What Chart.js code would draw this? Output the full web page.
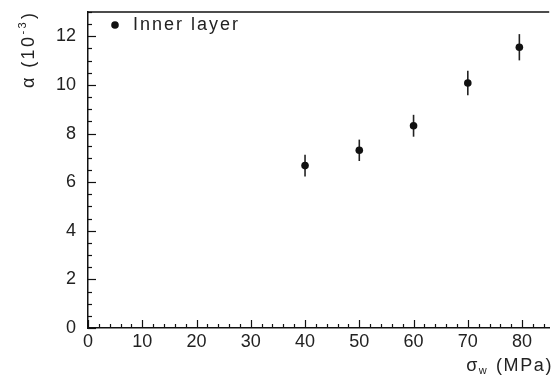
<!DOCTYPE html>
<html>
<head>
<meta charset="utf-8">
<script src="https://cdn.jsdelivr.net/npm/chart.js@4.4.1/dist/chart.umd.min.js"></script>
<style>
  html, body { margin: 0; padding: 0; background: #fff; }
  #wrap { width: 553px; height: 375px; }
</style>
</head>
<body>
<div id="wrap"><canvas id="c" width="553" height="375"></canvas></div>
<script>
// Wire stress (MPa) and measured alpha (units of 1e-3) with their uncertainties
const stress = [40, 50, 60, 70, 79.5];
const alphaValues = [6.68, 7.31, 8.32, 10.08, 11.55];
const alphaErrors = [0.45, 0.44, 0.45, 0.50, 0.54];
const seriesLabel = 'Inner layer';
const xAxisRange = [0, 85];
const yAxisRange = [0, 13];
const xMajorStep = 10, xMinorStep = 2;
const yMajorStep = 2, yMinorStep = 0.5;

const FONT = '"Liberation Sans", Arial, sans-serif';
const INK = '#111';

const points = stress.map((x, i) => ({ x: x, y: alphaValues[i], err: alphaErrors[i] }));

// Inward-facing tick marks, top frame line, error bars, legend and axis titles
const decorations = {
  id: 'decorations',
  beforeDatasetsDraw(chart) {
    const ctx = chart.ctx;
    const xs = chart.scales.x, ys = chart.scales.y;
    ctx.save();
    ctx.strokeStyle = '#222';
    ctx.lineWidth = 1.6;
    chart.data.datasets[0].data.forEach(p => {
      const px = xs.getPixelForValue(p.x);
      ctx.beginPath();
      ctx.moveTo(px, ys.getPixelForValue(p.y - p.err));
      ctx.lineTo(px, ys.getPixelForValue(p.y + p.err));
      ctx.stroke();
    });
    ctx.restore();
  },
  afterDraw(chart) {
    const ctx = chart.ctx;
    const a = chart.chartArea;
    const xs = chart.scales.x, ys = chart.scales.y;
    ctx.save();
    ctx.strokeStyle = INK;
    ctx.lineWidth = 1.5;

    // top frame line
    ctx.beginPath();
    ctx.moveTo(a.left, a.top);
    ctx.lineTo(a.right, a.top);
    ctx.stroke();

    // x-axis ticks pointing up into the plot
    ctx.lineWidth = 1.2;
    for (let v = xAxisRange[0]; v <= xAxisRange[1] + 1e-9; v += xMinorStep) {
      const px = Math.round(xs.getPixelForValue(v)) + 0.5;
      const major = Math.abs(v / xMajorStep - Math.round(v / xMajorStep)) < 1e-6;
      const len = major ? 8 : 4;
      ctx.beginPath();
      ctx.moveTo(px, a.bottom);
      ctx.lineTo(px, a.bottom - len);
      ctx.stroke();
    }
    // y-axis ticks pointing right into the plot
    for (let v = yAxisRange[0]; v <= yAxisRange[1] + 1e-9; v += yMinorStep) {
      const py = Math.round(ys.getPixelForValue(v)) + 0.5;
      const major = Math.abs(v / yMajorStep - Math.round(v / yMajorStep)) < 1e-6;
      const len = major ? 8 : 4;
      ctx.beginPath();
      ctx.moveTo(a.left, py);
      ctx.lineTo(a.left + len, py);
      ctx.stroke();
    }

    // legend
    ctx.fillStyle = INK;
    ctx.beginPath();
    ctx.arc(a.left + 27, a.top + 13, 3.8, 0, Math.PI * 2);
    ctx.fill();
    ctx.font = '18px ' + FONT;
    ctx.textBaseline = 'middle';
    ctx.textAlign = 'left';
    ctx.letterSpacing = '2px';
    ctx.fillStyle = '#222';
    ctx.fillText(chart.data.datasets[0].label, a.left + 45, a.top + 13);

    // x-axis title: sigma with subscript w, right-aligned
    const big = '18px ' + FONT, small = '11px ' + FONT;
    ctx.textBaseline = 'alphabetic';
    ctx.letterSpacing = '1.6px';
    ctx.font = big;
    const wSig = ctx.measureText('σ').width;
    const wTail = ctx.measureText(' (MPa)').width;
    ctx.font = small;
    const wSub = ctx.measureText('w').width;
    let x0 = 553 - (wSig + wSub + 1 + wTail);
    const base = 371;
    ctx.font = big;
    ctx.fillText('σ', x0, base);
    ctx.font = small;
    ctx.fillText('w', x0 + wSig, base + 3);
    ctx.font = big;
    ctx.fillText(' (MPa)', x0 + wSig + wSub + 1, base);

    // y-axis title, rotated, reading upward from near the top
    ctx.letterSpacing = '2.4px';
    ctx.translate(34, 88);
    ctx.rotate(-Math.PI / 2);
    ctx.font = big;
    const p1 = 'α (10';
    ctx.fillText(p1, 0, 0);
    let off = ctx.measureText(p1).width;
    ctx.font = small;
    ctx.fillText('-3', off, -8);
    off += ctx.measureText('-3').width + 1;
    ctx.font = big;
    ctx.fillText(')', off, 0);
    ctx.restore();
  }
};

new Chart(document.getElementById('c'), {
  type: 'scatter',
  data: {
    datasets: [{
      label: seriesLabel,
      data: points,
      backgroundColor: INK,
      borderColor: INK,
      pointRadius: 3.8,
      pointHoverRadius: 3.8,
      borderWidth: 0
    }]
  },
  options: {
    responsive: false,
    animation: false,
    devicePixelRatio: 1,
    layout: { padding: { top: 12, right: 0, left: 0, bottom: 0 } },
    plugins: { legend: { display: false }, tooltip: { enabled: false } },
    scales: {
      x: {
        type: 'linear',
        min: xAxisRange[0], max: xAxisRange[1],
        afterFit(scale) {
          scale.height = 47;
          scale.paddingLeft = 0; scale.paddingRight = 0;
        },
        border: { display: true, color: INK, width: 1.5 },
        grid: { display: true, drawOnChartArea: false, drawTicks: false, color: 'rgba(0,0,0,0)' },
        ticks: {
          stepSize: xMajorStep, includeBounds: false, padding: 3,
          color: '#222', font: { family: FONT, size: 18 }, maxRotation: 0
        }
      },
      y: {
        type: 'linear',
        min: yAxisRange[0], max: yAxisRange[1],
        afterFit(scale) {
          scale.width = 88;
          scale.paddingTop = 0; scale.paddingBottom = 0;
        },
        border: { display: true, color: INK, width: 1.5 },
        grid: { display: true, drawOnChartArea: false, drawTicks: false, color: 'rgba(0,0,0,0)' },
        ticks: {
          stepSize: yMajorStep, includeBounds: false, padding: 12,
          color: '#222', font: { family: FONT, size: 18 }
        }
      }
    }
  },
  plugins: [decorations]
});
</script>
</body>
</html>
